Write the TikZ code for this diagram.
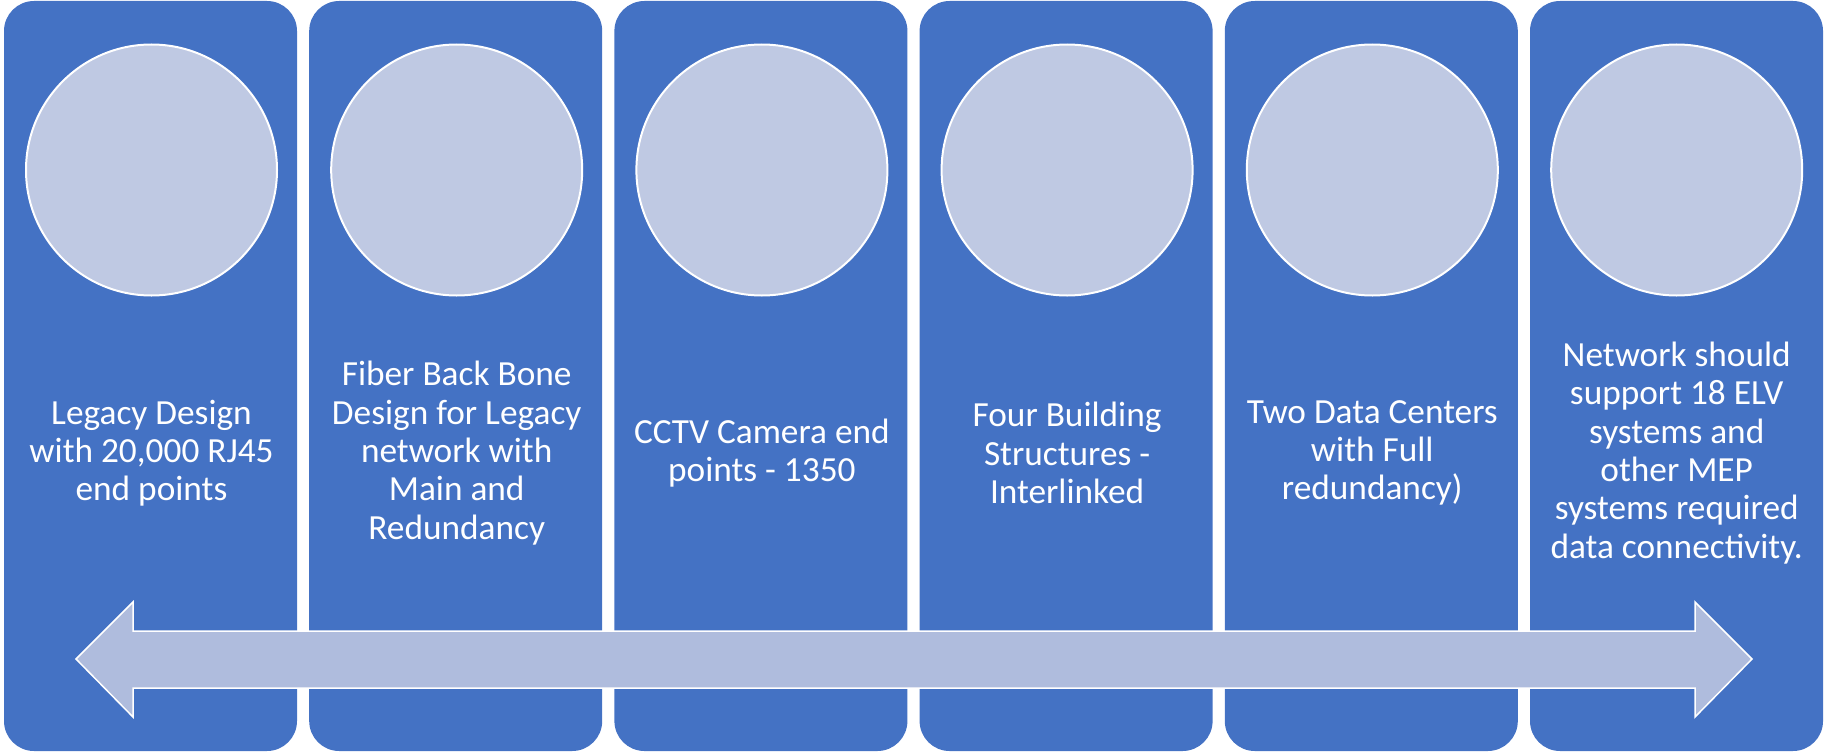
\documentclass[tikz,border=0pt]{standalone}
\usepackage{fontspec}
\setmainfont{Carlito}
\definecolor{panelblue}{HTML}{4472C4}
\definecolor{disclight}{HTML}{BFC9E3}
\definecolor{arrowlight}{HTML}{AFBCDD}
\begin{document}
\begin{tikzpicture}[x=1pt,y=-1pt,
    panel/.style ={rectangle, fill=panelblue, draw=none, rounded corners=30pt, minimum width=293pt, minimum height=750pt, inner sep=0pt},
    disc/.style ={circle, fill=disclight, draw=white, line width=2pt, minimum size=251pt, inner sep=0pt},
    blurb/.style ={text=white, align=center, font=\fontsize{35.3}{38.3}\selectfont, inner sep=0pt}]
   \useasboundingbox (0,0) rectangle (1825,752);
   \node[panel] (p1) at (150.5,376) {};
   \node[panel] (p2) at (455.7,376) {};
   \node[panel] (p3) at (760.9,376) {};
   \node[panel] (p4) at (1066.1,376) {};
   \node[panel] (p5) at (1371.3,376) {};
   \node[panel] (p6) at (1676.5,376) {};
   \node[disc] (c1) at (151.5,170) {};
   \node[disc] (c2) at (456.7,170) {};
   \node[disc] (c3) at (761.9,170) {};
   \node[disc] (c4) at (1067.1,170) {};
   \node[disc] (c5) at (1372.3,170) {};
   \node[disc] (c6) at (1676.7,170) {};
   \node[blurb] (t1) at (151.5,453) {Legacy Design\\with 20,000 RJ45\\end points};
   \node[blurb] (t2) at (456.7,453) {Fiber Back Bone\\Design for Legacy\\network with\\Main and\\Redundancy};
   \node[blurb] (t3) at (761.9,453) {CCTV Camera end\\points - 1350};
   \node[blurb] (t4) at (1067.1,453) {Four Building\\Structures -\\Interlinked};
   \node[blurb] (t5) at (1372.3,453) {Two Data Centers\\with Full\\redundancy)};
   \node[blurb] (t6) at (1676.7,453) {Network should\\support 18 ELV\\systems and\\other MEP\\systems required\\data connectivity.};
   % timeline arrow
   \draw[fill=arrowlight, draw=white, line width=1.5pt, line join=miter]
     (76,659) -- (133,602) -- (133,631) -- (1695,631) -- (1695,602) -- (1752,659)
     -- (1695,717) -- (1695,688) -- (133,688) -- (133,717) -- cycle;
\end{tikzpicture}
\end{document}
